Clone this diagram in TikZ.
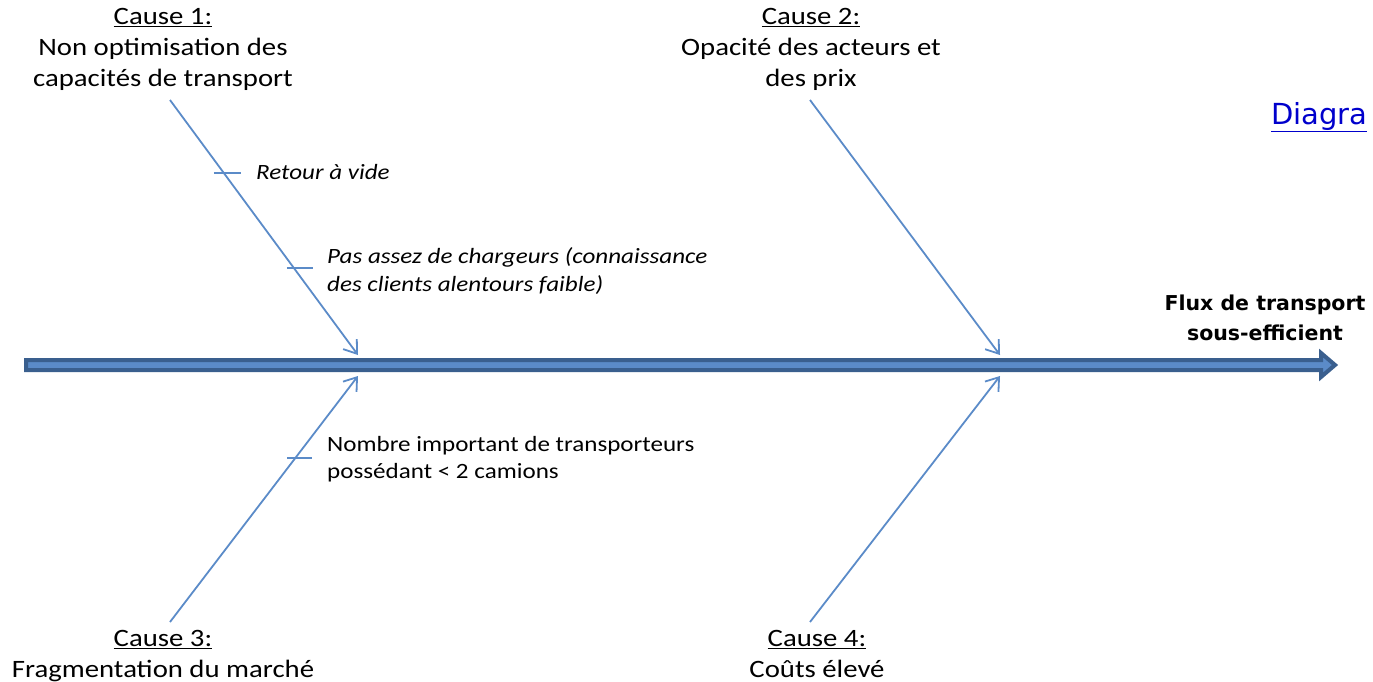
\documentclass[tikz,border=0pt]{standalone}
\usepackage{fontspec}
\setmainfont{Carlito}[FakeStretch=1.15]
\newfontfamily\verdfont{DejaVu Sans}
\usetikzlibrary{arrows.meta}
\definecolor{bonecol}{HTML}{5B8BC8}
\definecolor{spinedark}{HTML}{3A5F8E}
\definecolor{spinelight}{HTML}{5B8BC8}
\definecolor{linkblue}{HTML}{0000CC}
\tikzset{
 bone/.style={draw=bonecol,line width=1.8pt,-{Straight Barb[length=12pt,width=17pt,line width=1.8pt]}},
 tick/.style={draw=bonecol,line width=1.8pt},
 causetxt/.style={inner sep=0pt,align=center,font=\fontsize{25}{31}\selectfont},
 subtxt/.style={inner sep=0pt,align=left,anchor=west,font=\fontsize{21.8}{28}\selectfont\itshape},
 subtxtup/.style={subtxt,font=\fontsize{21.8}{27}\selectfont}
}
\begin{document}
\begin{tikzpicture}[x=1pt,y=-1pt]
 \useasboundingbox (0,0) rectangle (1373,682);
 \clip (0,0) rectangle (1373,682);
 % spine
 \draw[draw=spinedark,fill=spinelight,line width=4pt,line join=miter]
  (26,360)--(1321,360)--(1321,353)--(1335,365)--(1321,377)--(1321,370)--(26,370)--cycle;
 \node[inner sep=0pt,align=center,font=\verdfont\bfseries\fontsize{20.5}{30}\selectfont] (effect) at (1265,318) {Flux de transport\\sous-efficient};
 % causes
 \node[causetxt,anchor=north] (cause1) at (163,8) {\underline{Cause 1:}\\Non optimisation des\\capacités de transport};
 \node[causetxt,anchor=north] (cause2) at (811,8) {\underline{Cause 2:}\\Opacité des acteurs et\\des prix};
 \node[causetxt,anchor=north] (cause3) at (163,630) {\underline{Cause 3:}\\Fragmentation du marché};
 \node[causetxt,anchor=north] (cause4) at (817,630) {\underline{Cause 4:}\\Coûts élevé};
 % bones
 \coordinate (b1s) at (170,100); \coordinate (b1e) at (358,355);
 \coordinate (b2s) at (810,100); \coordinate (b2e) at (1000,355);
 \coordinate (b3s) at (170,622); \coordinate (b3e) at (358,376);
 \coordinate (b4s) at (810,622); \coordinate (b4e) at (1000,376);
 \draw[bone] (b1s) -- (b1e);
 \draw[bone] (b2s) -- (b2e);
 \draw[bone] (b3s) -- (b3e);
 \draw[bone] (b4s) -- (b4e);
 % sub-causes
 \path (b1s) -- (b1e) coordinate[pos=0.286] (t1) coordinate[pos=0.659] (t2);
 \path (b3s) -- (b3e) coordinate[pos=0.667] (t3);
 \draw[tick] ([xshift=-10pt]t1) -- ([xshift=17pt]t1);
 \draw[tick] ([xshift=-7pt]t2) -- ([xshift=19pt]t2);
 \draw[tick] ([xshift=-8pt]t3) -- ([xshift=17pt]t3);
 \node[subtxt] (sub1) at (256,172) {Retour à vide};
 \node[subtxt] (sub2) at (327,271) {Pas assez de chargeurs (connaissance\\des clients alentours faible)};
 \node[subtxtup] (sub3) at (327,459) {Nombre important de transporteurs\\possédant < 2 camions};
 % link
 \node[inner sep=0pt,anchor=west,text=linkblue,font=\verdfont\fontsize{29}{34}\selectfont] (link) at (1271,117) {\underline{Diagra}};
\end{tikzpicture}
\end{document}
